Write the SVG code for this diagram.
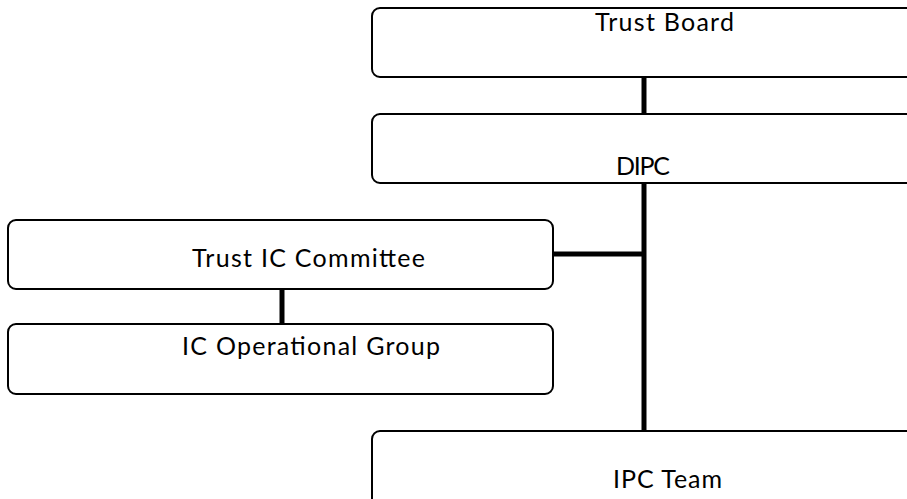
<svg xmlns="http://www.w3.org/2000/svg" width="907" height="499" viewBox="0 0 907 499">
  <style>
    .box { fill: #ffffff; stroke: #000000; stroke-width: 2; }
    .label { font-family: Lato, "Open Sans", "Liberation Sans", sans-serif; font-size: 25px; fill: #000000; }
    .link { stroke: #000000; stroke-width: 5; fill: none; }
  </style>
  <rect width="907" height="499" fill="#ffffff"/>

  <!-- connectors -->
  <g id="connectors">
    <path class="link" d="M644 77 V114"/>
    <path class="link" d="M644 183 V431"/>
    <path class="link" d="M553 254 H644"/>
    <path class="link" d="M282 289 V324"/>
  </g>

  <g id="trust-board">
    <rect class="box" x="372" y="8" width="560" height="69" rx="8"/>
    <text class="label" x="595" y="31" textLength="139">Trust Board</text>
  </g>

  <g id="dipc">
    <rect class="box" x="372" y="114" width="560" height="69" rx="8"/>
    <text class="label" x="616" y="175" textLength="54">DIPC</text>
  </g>

  <g id="trust-ic-committee">
    <rect class="box" x="8" y="220" width="545" height="69" rx="8"/>
    <text class="label" x="192" y="267" textLength="233">Trust IC Committee</text>
  </g>

  <g id="ic-operational-group">
    <rect class="box" x="8" y="324" width="545" height="70" rx="8"/>
    <text class="label" x="182" y="355" textLength="258">IC Operational Group</text>
  </g>

  <g id="ipc-team">
    <rect class="box" x="372" y="431" width="560" height="80" rx="8"/>
    <text class="label" x="613" y="488" textLength="109">IPC Team</text>
  </g>
</svg>
